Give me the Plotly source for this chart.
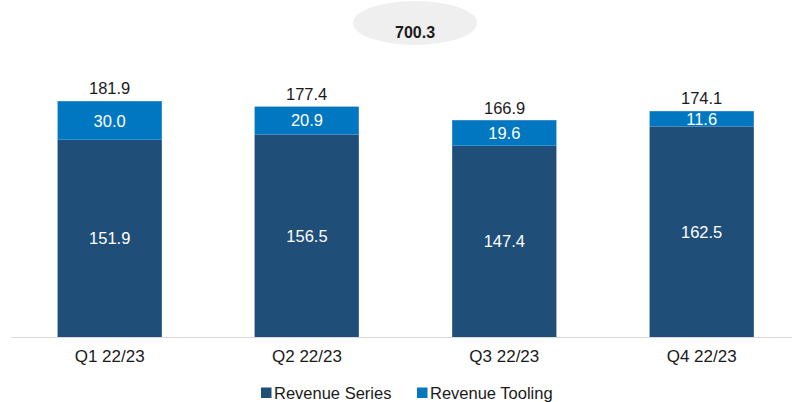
import plotly.graph_objects as go

quarters = ["Q1 22/23", "Q2 22/23", "Q3 22/23", "Q4 22/23"]
revenue_series = [151.9, 156.5, 147.4, 162.5]
revenue_tooling = [30.0, 20.9, 19.6, 11.6]
quarter_totals = [181.9, 177.4, 166.9, 174.1]
year_total = round(sum(quarter_totals), 1)

DARK = "#1F4E79"
LIGHT = "#0077C0"
TEXT = "#1a1a1a"
FONT = "Arial, Liberation Sans, sans-serif"

# plot area in pixels: x 11..792, y 0..337
PX_L, PX_W, PX_H = 11, 781, 337


def px_x(x):
    return (x - PX_L) / PX_W


def px_y(y):
    return (PX_H - y) / PX_H


fig = go.Figure()
fig.add_trace(go.Bar(
    name="Revenue Series", x=quarters, y=revenue_series,
    marker=dict(color=DARK, line=dict(color="#5a7fa6", width=0.6)),
    text=[f"{v:.1f}" for v in revenue_series], textposition="inside",
    insidetextanchor="middle", textfont=dict(color="white", size=16.5, family=FONT),
    constraintext="none", width=0.527, showlegend=False,
))
fig.add_trace(go.Bar(
    name="Revenue Tooling", x=quarters, y=revenue_tooling,
    marker=dict(color=LIGHT, line=dict(color="#5a9fd0", width=0.6)),
    text=[f"{v:.1f}" for v in revenue_tooling], textposition="inside",
    insidetextanchor="middle", textfont=dict(color="white", size=16.5, family=FONT),
    constraintext="none", width=0.527, showlegend=False,
))

annotations = [
    dict(x=q, y=t, text=f"{t:.1f}", showarrow=False, yanchor="bottom", yshift=2,
         font=dict(size=16.5, color=TEXT, family=FONT))
    for q, t in zip(quarters, quarter_totals)
]
annotations.append(dict(
    xref="paper", yref="paper", x=px_x(415), y=px_y(22),
    text=f"<b>{year_total:.1f}</b>", showarrow=False,
    font=dict(size=16, color=TEXT, family=FONT),
))

# legend: swatch + label per series
legend_items = [("Revenue Series", DARK, 261), ("Revenue Tooling", LIGHT, 417)]
shapes = [dict(
    type="circle", xref="paper", yref="paper",
    x0=px_x(353), x1=px_x(477), y0=px_y(45), y1=px_y(1),
    fillcolor="#EFEFEF", line=dict(width=0), layer="below",
)]
for label, color, x0 in legend_items:
    shapes.append(dict(type="rect", xref="paper", yref="paper",
                       x0=px_x(x0), x1=px_x(x0 + 10.5), y0=px_y(398), y1=px_y(387.5),
                       fillcolor=color, line=dict(width=0)))
    annotations.append(dict(xref="paper", yref="paper", x=px_x(x0 + 11), y=px_y(392.5),
                            xanchor="left", yanchor="middle", text=label, showarrow=False,
                            font=dict(size=16.5, color=TEXT, family=FONT)))

fig.update_layout(
    barmode="stack",
    width=792, height=402,
    margin=dict(l=11, r=0, t=0, b=65),
    paper_bgcolor="white", plot_bgcolor="white",
    font=dict(family=FONT, size=16.5, color=TEXT),
    showlegend=False,
    annotations=annotations,
    shapes=shapes,
    xaxis=dict(range=[-0.5, 3.458], showline=True, linecolor="#D9D9D9", linewidth=1,
               ticks="", showgrid=False, automargin=False, ticklabelstandoff=4,
               tickfont=dict(size=17, family=FONT, color=TEXT)),
    yaxis=dict(range=[0, 259.8], visible=False, showgrid=False, zeroline=False),
)

fig.write_html("out.html")
